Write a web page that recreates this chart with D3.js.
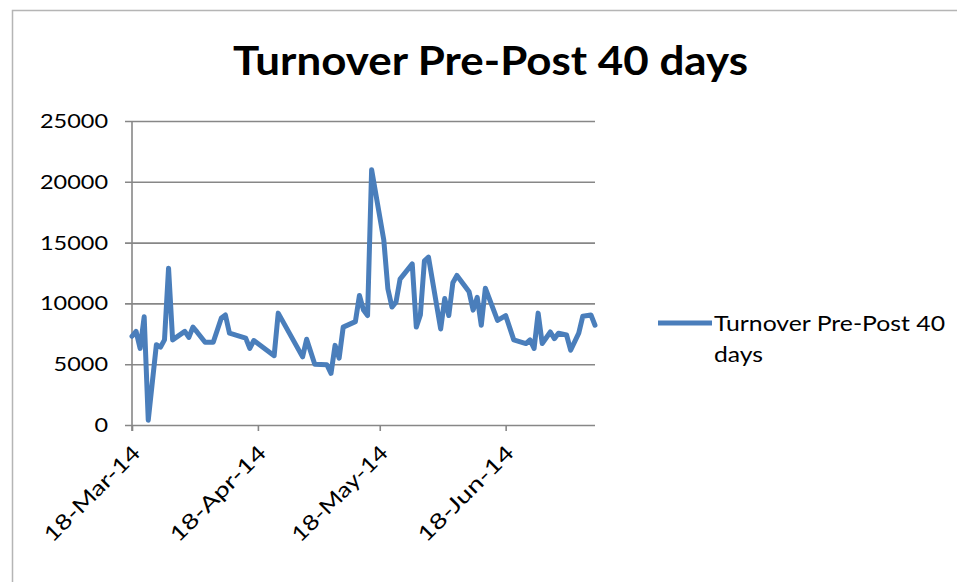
<!DOCTYPE html>
<html><head><meta charset="utf-8">
<script src="https://cdn.jsdelivr.net/npm/d3@7"></script>
<style>html,body{margin:0;padding:0;background:#fff;}svg{display:block;}</style>
</head><body>
<svg id="chart" width="957" height="582"></svg>
<script>
const title = "Turnover Pre-Post 40 days";
const seriesName = "Turnover Pre-Post 40 days";
const dates = ["2014-03-18","2014-03-19","2014-03-20","2014-03-21","2014-03-22","2014-03-24","2014-03-25","2014-03-26","2014-03-27","2014-03-28",
"2014-03-31","2014-04-01","2014-04-02","2014-04-03","2014-04-05","2014-04-07","2014-04-09","2014-04-10","2014-04-11","2014-04-15",
"2014-04-16","2014-04-17","2014-04-22","2014-04-23","2014-04-29","2014-04-30","2014-05-02","2014-05-05","2014-05-06","2014-05-07",
"2014-05-08","2014-05-09","2014-05-12","2014-05-13","2014-05-14","2014-05-15","2014-05-16","2014-05-19","2014-05-20","2014-05-21",
"2014-05-22","2014-05-23","2014-05-26","2014-05-27","2014-05-28","2014-05-29","2014-05-30","2014-06-02","2014-06-03","2014-06-04",
"2014-06-05","2014-06-06","2014-06-09","2014-06-10","2014-06-11","2014-06-12","2014-06-13","2014-06-16","2014-06-18","2014-06-20",
"2014-06-23","2014-06-24","2014-06-25","2014-06-26","2014-06-27","2014-06-29","2014-06-30","2014-07-01","2014-07-03","2014-07-04",
"2014-07-06","2014-07-07","2014-07-09","2014-07-10"];
const values = [7300,7700,6300,8900,400,6600,6400,7000,12900,7000,
7700,7200,8050,7650,6800,6800,8800,9050,7550,7150,
6300,6950,5700,9200,5600,7050,5000,4950,4250,6550,
5500,8050,8500,10650,9450,9000,21000,15200,11200,9700,
10100,12000,13250,8050,9050,13500,13800,7900,10400,9000,
11700,12300,10950,9450,10500,8200,11250,8600,9000,7000,
6700,7000,6300,9200,6700,7650,7100,7550,7400,6150,
7550,8950,9050,8200];
const yTicks = [0,5000,10000,15000,20000,25000];
const xTickDates = ["2014-03-18","2014-04-18","2014-05-18","2014-06-18"];

const parse = d3.utcParse("%Y-%m-%d");
const data = dates.map((d,i)=>({date:parse(d), value:values[i]}));
const svg = d3.select("#chart");
const font = "Lato, 'Liberation Sans', sans-serif";

// outer border
svg.append("path").attr("d","M12.5,582 L12.5,10.5 L957,10.5").attr("fill","none").attr("stroke","#b5b5b5").attr("stroke-width",1.5);

const x = d3.scaleUtc().domain([parse("2014-03-18"), parse("2014-07-10")]).range([132,595]);
const y = d3.scaleLinear().domain([0,25000]).range([425,121]);

// gridlines + y axis
const yAxis = d3.axisLeft(y).tickValues(yTicks).tickSize(-(595-125)).tickFormat(d=>d).tickPadding(0);
const gy = svg.append("g").attr("transform","translate(125,0)").call(yAxis);
gy.select(".domain").remove();
gy.selectAll(".tick line").attr("stroke","#878787").attr("stroke-width",1.6);
gy.selectAll(".tick text").attr("x",-17).attr("font-family",font).attr("font-size",20).attr("fill","#000")
  .attr("textLength",d=>String(d).length*13.6).attr("lengthAdjust","spacingAndGlyphs");
svg.append("line").attr("x1",132).attr("x2",132).attr("y1",121).attr("y2",431).attr("stroke","#878787").attr("stroke-width",1.6);

// x axis
const fmt = d3.utcFormat("%d-%b-%y");
const xAxis = d3.axisBottom(x).tickValues(xTickDates.map(parse)).tickSize(6).tickFormat(fmt);
const gx = svg.append("g").attr("transform","translate(0,425)").call(xAxis);
gx.select(".domain").remove();
gx.selectAll(".tick line").attr("stroke","#878787").attr("stroke-width",1.6);
gx.selectAll(".tick text").attr("font-family",font).attr("font-size",21).attr("fill","#000")
  .attr("text-anchor","end").attr("y",0).attr("dy","0.35em")
  .attr("transform","translate(4,24) rotate(-45)")
  .attr("textLength",d=>fmt(d).length*14).attr("lengthAdjust","spacingAndGlyphs");

// line
const line = d3.line().x(d=>x(d.date)).y(d=>y(d.value));
svg.append("path").datum(data).attr("d",line).attr("fill","none").attr("stroke","#4a7ebb")
  .attr("stroke-width",5).attr("stroke-linejoin","round").attr("stroke-linecap","round");

// title
svg.append("text").attr("x",490.5).attr("y",75).attr("text-anchor","middle").attr("font-family",font)
  .attr("font-weight","bold").attr("font-size",40).attr("fill","#000")
  .attr("textLength",515).attr("lengthAdjust","spacingAndGlyphs").text(title);

// legend
svg.append("line").attr("x1",658).attr("x2",712).attr("y1",323).attr("y2",323).attr("stroke","#4a7ebb").attr("stroke-width",5);
const words = seriesName.split(" ");
const line1 = words.slice(0,3).join(" "), line2 = words.slice(3).join(" ");
svg.append("text").attr("x",714).attr("y",331).attr("font-family",font).attr("font-size",21).attr("fill","#000")
  .attr("textLength",231).attr("lengthAdjust","spacingAndGlyphs").text(line1);
svg.append("text").attr("x",714).attr("y",362).attr("font-family",font).attr("font-size",21).attr("fill","#000")
  .attr("textLength",49).attr("lengthAdjust","spacingAndGlyphs").text(line2);
</script>
</body></html>
